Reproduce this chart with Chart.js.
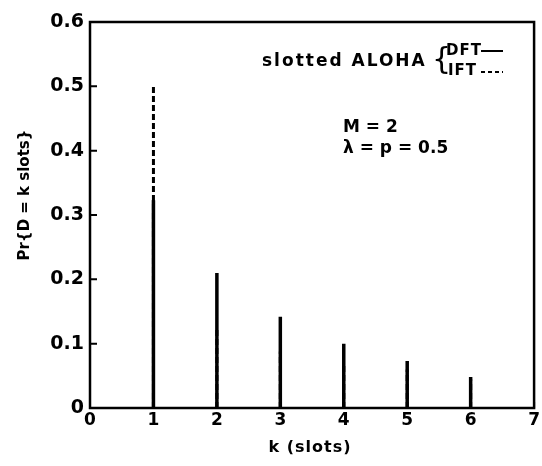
<!DOCTYPE html>
<html>
<head>
<meta charset="utf-8">
<script src="https://cdn.jsdelivr.net/npm/chart.js@4/dist/chart.umd.min.js"></script>
<style>
  html, body { margin: 0; padding: 0; background: #fff; }
  #wrap { width: 542px; height: 466px; }
</style>
</head>
<body>
<div id="wrap"><canvas id="aloha"></canvas></div>
<script>
// Dados
const slots = [1, 2, 3, 4, 5, 6];
const dftProb = [0.323, 0.21, 0.142, 0.10, 0.073, 0.048];
const iftProb = [0.50, 0.125, 0.088, 0.07, 0.06, 0.045];
const xTicks = [0, 1, 2, 3, 4, 5, 6, 7];
const yTicks = [0, 0.1, 0.2, 0.3, 0.4, 0.5, 0.6];

const FONT = '"DejaVu Sans", sans-serif';

// cada k vira um traco vertical de 0 ate o valor, separado por um ponto nulo
function spikes(values) {
    const pts = [];
    slots.forEach((k, i) => {
        pts.push({ x: k, y: 0 }, { x: k, y: values[i] }, { x: k + 0.5, y: null });
    });
    return pts;
}

// caixa, ticks para dentro, titulos dos eixos e textos da legenda
const framePlugin = {
    id: 'frame',
    afterDraw(chart) {
        const { ctx, chartArea: a, scales } = chart;
        ctx.save();
        ctx.strokeStyle = '#000';
        ctx.lineWidth = 2.5;
        ctx.strokeRect(a.left, a.top, a.right - a.left, a.bottom - a.top);

        ctx.lineWidth = 2;
        ctx.beginPath();
        yTicks.forEach(v => {
            const y = scales.y.getPixelForValue(v);
            ctx.moveTo(a.left, y); ctx.lineTo(a.left + 7, y);
        });
        xTicks.forEach(v => {
            const x = scales.x.getPixelForValue(v);
            ctx.moveTo(x, a.bottom); ctx.lineTo(x, a.bottom - 6);
        });
        ctx.stroke();

        ctx.fillStyle = '#000';
        ctx.textBaseline = 'middle';

        // titulos dos eixos
        ctx.textAlign = 'center';
        ctx.font = 'bold 16px ' + FONT;
        ctx.letterSpacing = '1px';
        ctx.fillText('k (slots)', 310, 448);
        ctx.letterSpacing = '0px';
        ctx.font = 'bold 15px ' + FONT;
        ctx.save();
        ctx.translate(25, 195);
        ctx.rotate(-Math.PI / 2);
        ctx.fillText('Pr{D = k slots}', 0, 0);
        ctx.restore();

        ctx.textAlign = 'left';
        ctx.font = 'bold 17px ' + FONT;
        ctx.letterSpacing = '2px';
        ctx.fillText('slotted ALOHA', 262, 62);
        ctx.font = '30px ' + FONT;
        ctx.letterSpacing = '0px';
        ctx.fillText('{', 432, 61);
        ctx.font = 'bold 15px ' + FONT;
        ctx.letterSpacing = '1px';
        ctx.fillText('DFT', 446, 51);
        ctx.fillText('IFT', 448, 71);
        ctx.letterSpacing = '0px';

        ctx.lineWidth = 2;
        ctx.beginPath();
        ctx.moveTo(481, 51); ctx.lineTo(503, 51);
        ctx.stroke();
        ctx.setLineDash([4, 3]);
        ctx.beginPath();
        ctx.moveTo(481, 72); ctx.lineTo(503, 72);
        ctx.stroke();
        ctx.setLineDash([]);

        ctx.font = 'bold 17px ' + FONT;
        ctx.fillText('M = 2', 343, 128);
        ctx.fillText('\u03bb = p = 0.5', 343, 149);
        ctx.restore();
    }
};

new Chart(document.getElementById('aloha'), {
    type: 'scatter',
    data: {
        datasets: [
            {
                label: 'DFT',
                data: spikes(dftProb),
                showLine: true,
                spanGaps: false,
                borderColor: '#000',
                borderWidth: 3.5,
                pointRadius: 0
            },
            {
                label: 'IFT',
                data: spikes(iftProb),
                showLine: true,
                spanGaps: false,
                borderColor: '#000',
                borderWidth: 3,
                borderDash: [6, 3],
                pointRadius: 0
            }
        ]
    },
    options: {
        responsive: true,
        maintainAspectRatio: false,
        animation: false,
        layout: { padding: { left: 0, top: 22, right: 7, bottom: 0 } },
        plugins: {
            legend: { display: false },
            tooltip: { enabled: false }
        },
        scales: {
            x: {
                type: 'linear',
                min: 0,
                max: 7,
                afterBuildTicks: s => { s.ticks = xTicks.map(v => ({ value: v })); },
                afterFit: s => { s.height = 58; },
                grid: { display: false, drawTicks: false },
                border: { display: false },
                ticks: {
                    color: '#000',
                    padding: 2,
                    font: { family: FONT, size: 17, weight: 'bold' },
                    callback: v => String(v)
                }
            },
            y: {
                min: 0,
                max: 0.6,
                afterBuildTicks: s => { s.ticks = yTicks.map(v => ({ value: v })); },
                afterFit: s => { s.width = 90; },
                grid: { display: false, drawTicks: false },
                border: { display: false },
                ticks: {
                    color: '#000',
                    padding: 6,
                    font: { family: FONT, size: 19, weight: 'bold' },
                    callback: v => v === 0 ? '0' : v.toFixed(1)
                }
            }
        }
    },
    plugins: [framePlugin]
});
</script>
</body>
</html>
